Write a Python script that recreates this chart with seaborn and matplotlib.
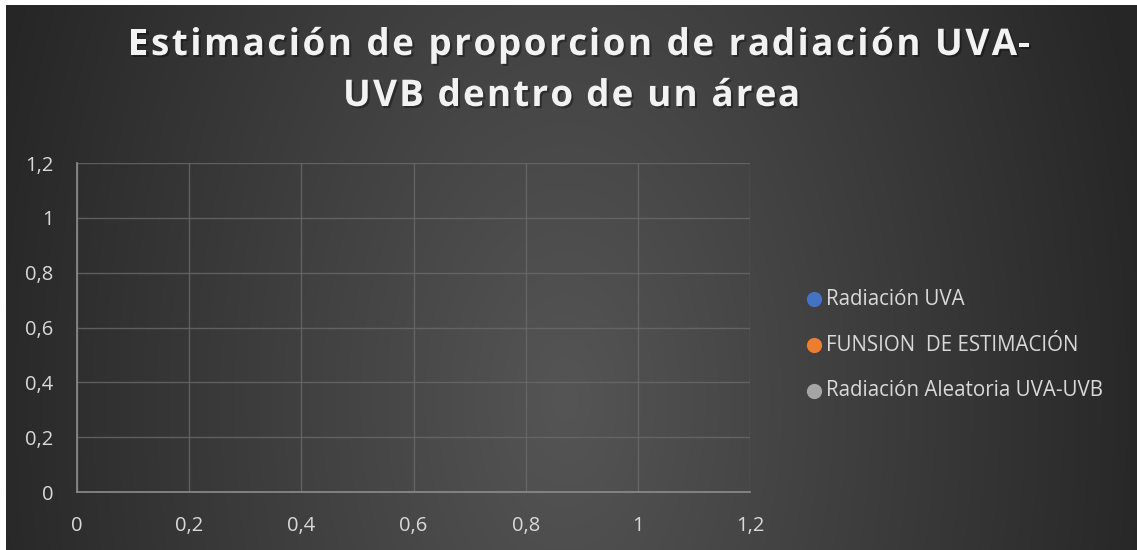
import numpy as np
import matplotlib
matplotlib.use("Agg")
import matplotlib.pyplot as plt
import matplotlib.patheffects as pe
import seaborn as sns

# Series (the source chart contains no data points)
uva_x = []
uva_y = []
estimacion_x = []
estimacion_y = []
aleatoria_x = []
aleatoria_y = []

series_labels = ["Radiación UVA", "FUNSION  DE ESTIMACIÓN", "Radiación Aleatoria UVA-UVB"]
series_colors = ["#4472c4", "#ed7d31", "#a5a5a5"]
tick_values = [0, 0.2, 0.4, 0.6, 0.8, 1, 1.2]
tick_labels = ["0", "0,2", "0,4", "0,6", "0,8", "1", "1,2"]
title_lines = ["Estimación de proporcion de radiación UVA-", "UVB dentro de un área"]

sns.set_theme(style="dark")
plt.rcParams["font.family"] = ["Open Sans", "DejaVu Sans"]

W, H = 1137, 550
fig = plt.figure(figsize=(W / 100, H / 100), dpi=100)
fig.patch.set_facecolor("white")

# radial gradient background, white strip at top and left
bg = fig.add_axes([6 / W, 0, 1 - 6 / W, 1 - 5 / H])
bg.set_axis_off()
yy, xx = np.mgrid[5:550, 6:1137]
r = np.sqrt(((xx - 565) / 600.0) ** 2 + ((yy - 400) / 1000.0) ** 2)
r = np.clip(r, 0, 1)
c0, c1 = 0x55 / 255, 0x26 / 255
shade = c0 + (c1 - c0) * r
bg.imshow(np.dstack([shade, shade, shade]), aspect="auto", interpolation="bilinear")

ax = fig.add_axes([77 / W, (H - 492) / H, (750 - 77) / W, (492 - 163) / H])
ax.set_facecolor("none")

groups = [(uva_x, uva_y), (estimacion_x, estimacion_y), (aleatoria_x, aleatoria_y)]
for (xs, ys), lab, col in zip(groups, series_labels, series_colors):
    ax.scatter(xs, ys, s=120, color=col, label=lab, linewidths=0)

ax.set_xlim(0, 1.2)
ax.set_ylim(0, 1.2)
ax.set_xticks(tick_values)
ax.set_xticklabels(tick_labels)
ax.set_yticks(tick_values)
ax.set_yticklabels(tick_labels)
ax.grid(True, color="#6a6a6a", linewidth=1, alpha=0.8)
for side in ["top", "right"]:
    ax.spines[side].set_visible(False)
for side in ["left", "bottom"]:
    ax.spines[side].set_visible(True)
    ax.spines[side].set_color("#8c8c8c")
    ax.spines[side].set_linewidth(1.2)
ax.tick_params(colors="#d9d9d9", labelsize=14.5, length=0)
ax.tick_params(axis="x", pad=17)
ax.tick_params(axis="y", pad=17)

fig.legend(loc="center left", bbox_to_anchor=(805 / W, 1 - 345 / H),
           frameon=False, fontsize=14.8, labelcolor="#d9d9d9",
           handletextpad=0.12, labelspacing=1.2, handlelength=0.9,
           borderpad=0, borderaxespad=0)

# title with letter spacing: place each character by measured prefix width
renderer = fig.canvas.get_renderer()
tkw = dict(fontsize=26.5, fontweight="bold", color="#f2f2f2", va="center", ha="left",
           path_effects=[pe.withSimplePatchShadow(offset=(1.5, -1.5), shadow_rgbFace="black", alpha=0.35)])
line_targets = [(128, 1030, 45), (343, 800, 96)]
for line, (x0, x1, yc) in zip(title_lines, line_targets):
    probe = fig.text(0, 0, line, **tkw)
    w = probe.get_window_extent(renderer).width
    probe.remove()
    sp = (x1 - x0 - w) / (len(line) - 1)
    for i, ch in enumerate(line):
        if i:
            p = fig.text(0, 0, line[:i] + "|", **tkw)
            q = fig.text(0, 0, "|", **tkw)
            off = p.get_window_extent(renderer).width - q.get_window_extent(renderer).width
            p.remove()
            q.remove()
        else:
            off = 0
        if ch != " ":
            fig.text((x0 + off + sp * i) / W, 1 - yc / H, ch, **tkw)

fig.savefig("out.png", dpi=100)
